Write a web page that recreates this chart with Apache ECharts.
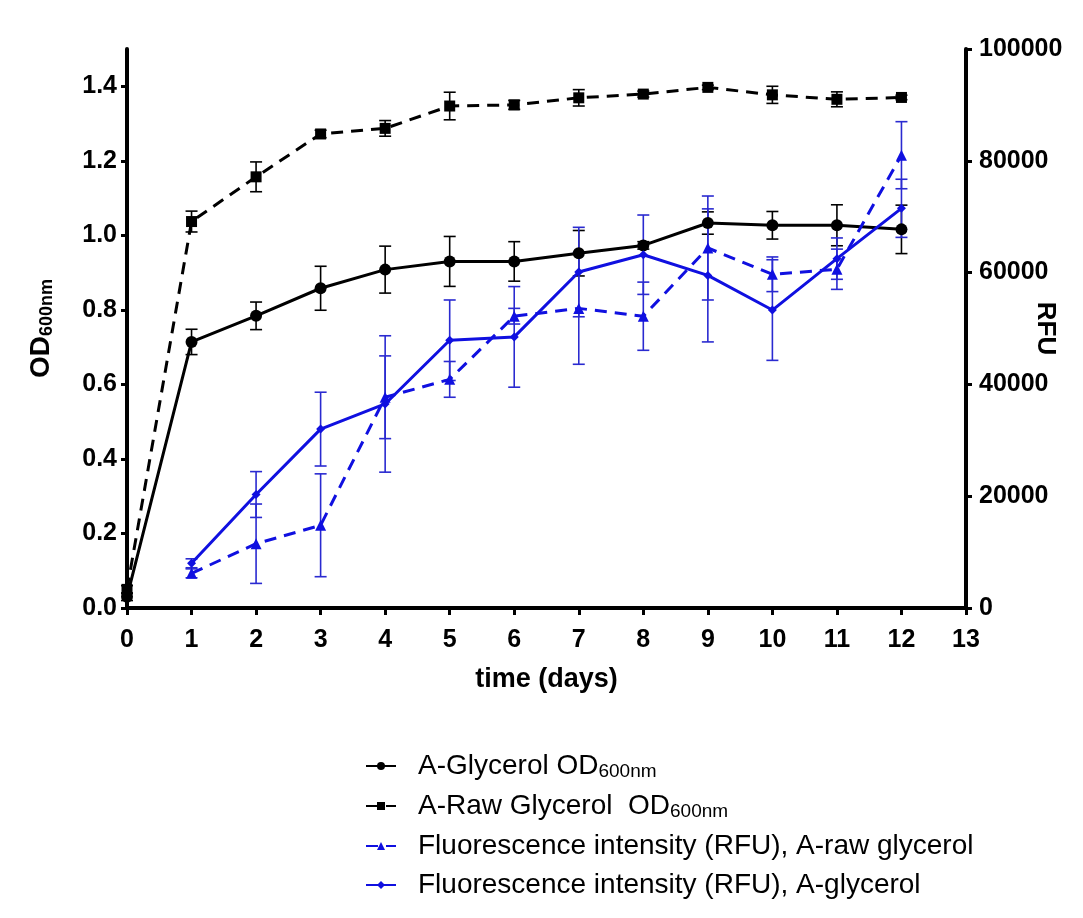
<!DOCTYPE html>
<html>
<head>
<meta charset="utf-8">
<script src="https://cdn.jsdelivr.net/npm/echarts@6/dist/echarts.min.js"></script>
<style>
  html, body { margin: 0; padding: 0; background: #fff; }
  #chart { width: 1083px; height: 918px; }
</style>
</head>
<body>
<div id="chart"></div>
<script>
// OD600nm series (days 0..12)
var odDays = [0, 1, 2, 3, 4, 5, 6, 7, 8, 9, 10, 11, 12];
var glycerolOD = [0.03, 0.714, 0.784, 0.858, 0.908, 0.930, 0.930, 0.952, 0.973, 1.033, 1.027, 1.027, 1.016];
var glycerolODErr = [0.01, 0.034, 0.037, 0.059, 0.063, 0.067, 0.053, 0.061, 0.010, 0.030, 0.037, 0.055, 0.065];
var rawOD = [0.05, 1.037, 1.157, 1.272, 1.287, 1.347, 1.350, 1.369, 1.379, 1.397, 1.377, 1.365, 1.370];
var rawODErr = [0.01, 0.028, 0.040, 0.010, 0.021, 0.037, 0.012, 0.022, 0.008, 0.006, 0.023, 0.020, 0.006];

// fluorescence (RFU) series (days 1..12)
var rfuDays = [1, 2, 3, 4, 5, 6, 7, 8, 9, 10, 11, 12];
var rfuRaw = [6200, 11500, 14800, 37700, 40900, 52200, 53600, 52200, 64400, 59700, 60600, 81000];
var rfuRawErr = [800, 7100, 9200, 7400, 3200, 1400, 10000, 6100, 9300, 3100, 3600, 6000];
var rfuGly = [8000, 20300, 32000, 36500, 47900, 48500, 60100, 63200, 59500, 53300, 62500, 71500];
var rfuGlyErr = [800, 4100, 6600, 12200, 7200, 9000, 8000, 7100, 11900, 9000, 3700, 5200];

var odTicks = [0, 0.2, 0.4, 0.6, 0.8, 1.0, 1.2, 1.4];

var BLUE = '#1010e0';
var FONT = 'Liberation Sans';

function pairs(xs, ys) {
  return xs.map(function (x, i) { return [x, ys[i]]; });
}
function errData(xs, ys, es) {
  return xs.map(function (x, i) { return [x, ys[i] - es[i], ys[i] + es[i]]; });
}

function errorBar(yAxisIndex, data, color) {
  return {
    type: 'custom',
    yAxisIndex: yAxisIndex,
    silent: true,
    z: 1,
    data: data,
    renderItem: function (params, api) {
      var x = api.value(0);
      var lo = api.coord([x, api.value(1)]);
      var hi = api.coord([x, api.value(2)]);
      var w = 6;
      var st = { stroke: color, lineWidth: 1.6 };
      return {
        type: 'group',
        children: [
          { type: 'line', shape: { x1: lo[0], y1: lo[1], x2: hi[0], y2: hi[1] }, style: st },
          { type: 'line', shape: { x1: lo[0] - w, y1: lo[1], x2: lo[0] + w, y2: lo[1] }, style: st },
          { type: 'line', shape: { x1: hi[0] - w, y1: hi[1], x2: hi[0] + w, y2: hi[1] }, style: st }
        ]
      };
    }
  };
}

var labelStyle = { fontFamily: FONT, fontWeight: 'bold', fontSize: 25, color: '#000' };

var chart = echarts.init(document.getElementById('chart'));
chart.setOption({
  backgroundColor: '#fff',
  animation: false,
  grid: { left: 127, right: 117, top: 49, bottom: 310, outerBoundsMode: 'none' },
  xAxis: {
    type: 'value',
    min: 0, max: 13, interval: 1,
    name: 'time (days)',
    nameLocation: 'middle',
    nameGap: 58,
    nameTextStyle: { fontFamily: FONT, fontWeight: 'bold', fontSize: 27, color: '#000' },
    axisLine: { lineStyle: { color: '#000', width: 4 } },
    axisTick: { length: 7, lineStyle: { color: '#000', width: 3 } },
    axisLabel: Object.assign({ margin: 20 }, labelStyle),
    splitLine: { show: false }
  },
  yAxis: [{
    type: 'value',
    min: 0, max: 1.5,
    name: '{t|OD}{s|600nm}',
    nameLocation: 'middle',
    nameRotate: 90,
    nameGap: 71,
    nameTextStyle: {
      rich: {
        t: { fontFamily: FONT, fontWeight: 'bold', fontSize: 28, color: '#000', lineHeight: 30 },
        s: { fontFamily: FONT, fontWeight: 'bold', fontSize: 18, color: '#000', lineHeight: 16, verticalAlign: 'bottom' }
      }
    },
    axisLine: { show: true, lineStyle: { color: '#000', width: 4 } },
    axisTick: { show: true, length: 6, customValues: odTicks, lineStyle: { color: '#000', width: 3 } },
    axisLabel: Object.assign({
      margin: 10,
      customValues: odTicks,
      formatter: function (v) { return v.toFixed(1); }
    }, labelStyle),
    splitLine: { show: false }
  }, {
    type: 'value',
    min: 0, max: 100000, interval: 20000,
    position: 'right',
    name: 'RFU',
    nameLocation: 'middle',
    nameRotate: -90,
    nameGap: 66,
    nameMoveOverlap: false,
    nameTextStyle: { fontFamily: FONT, fontWeight: 'bold', fontSize: 26, color: '#000' },
    axisLine: { show: true, lineStyle: { color: '#000', width: 4 } },
    axisTick: { show: true, length: 6, lineStyle: { color: '#000', width: 3 } },
    axisLabel: Object.assign({
      margin: 13,
      formatter: function (v) { return String(v); }
    }, labelStyle),
    splitLine: { show: false }
  }],
  legend: {
    orient: 'vertical',
    left: 360,
    top: 747,
    itemGap: 11,
    itemWidth: 30,
    itemHeight: 10,
    data: [
      'A-Glycerol OD600nm',
      'A-Raw Glycerol  OD600nm',
      'Fluorescence intensity (RFU), A-raw glycerol',
      'Fluorescence intensity (RFU), A-glycerol'
    ],
    formatter: function (name) {
      var m = name.match(/^(.*OD)(600nm)$/);
      if (m) return '{t|' + m[1] + '}{s|' + m[2] + '}';
      return '{t|' + name + '}';
    },
    textStyle: {
      rich: {
        t: { fontFamily: FONT, fontSize: 28, color: '#000', lineHeight: 30, padding: [0, 0, 0, 17] },
        s: { fontFamily: FONT, fontSize: 19, color: '#000', lineHeight: 16, verticalAlign: 'bottom' }
      }
    }
  },
  series: [
    errorBar(0, errData(odDays, glycerolOD, glycerolODErr), '#000'),
    errorBar(0, errData(odDays, rawOD, rawODErr), '#000'),
    errorBar(1, errData(rfuDays, rfuRaw, rfuRawErr), '#2a2ad0'),
    errorBar(1, errData(rfuDays, rfuGly, rfuGlyErr), '#2a2ad0'),
    {
      name: 'A-Glycerol OD600nm',
      type: 'line',
      yAxisIndex: 0,
      data: pairs(odDays, glycerolOD),
      symbol: 'circle',
      symbolSize: 12,
      lineStyle: { color: '#000', width: 3 },
      itemStyle: { color: '#000' },
      z: 3
    },
    {
      name: 'A-Raw Glycerol  OD600nm',
      type: 'line',
      yAxisIndex: 0,
      data: pairs(odDays, rawOD),
      symbol: 'rect',
      symbolSize: 11,
      lineStyle: { color: '#000', width: 3, type: [12, 8] },
      itemStyle: { color: '#000' },
      z: 3
    },
    {
      name: 'Fluorescence intensity (RFU), A-raw glycerol',
      type: 'line',
      yAxisIndex: 1,
      data: pairs(rfuDays, rfuRaw),
      symbol: 'triangle',
      symbolSize: 11,
      lineStyle: { color: BLUE, width: 3, type: [12, 8] },
      itemStyle: { color: BLUE },
      z: 3
    },
    {
      name: 'Fluorescence intensity (RFU), A-glycerol',
      type: 'line',
      yAxisIndex: 1,
      data: pairs(rfuDays, rfuGly),
      symbol: 'diamond',
      symbolSize: 9,
      lineStyle: { color: BLUE, width: 3 },
      itemStyle: { color: BLUE },
      z: 3
    }
  ]
});
</script>
</body>
</html>
